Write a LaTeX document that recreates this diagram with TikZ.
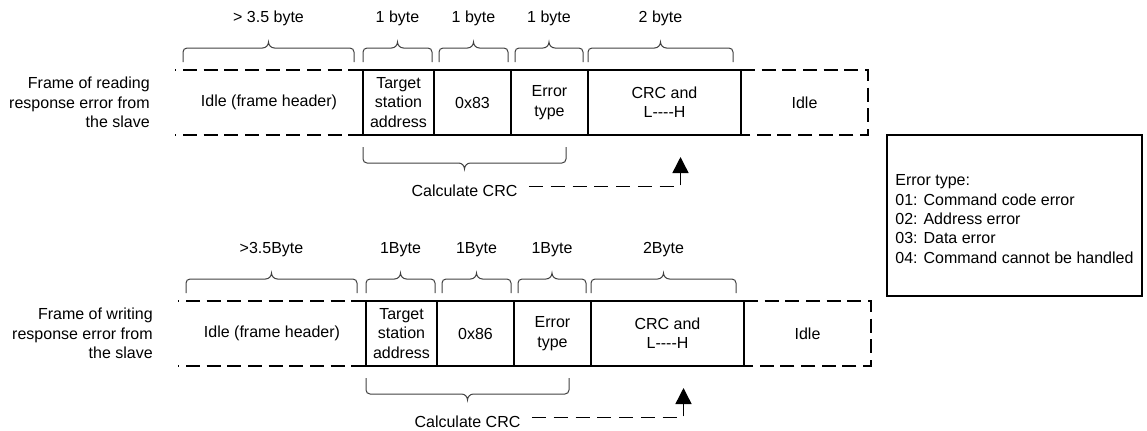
\documentclass[tikz,border=0pt]{standalone}
\usepackage{fontspec}
\setmainfont{Liberation Sans}
\usepackage{tikz}
\usetikzlibrary{positioning,arrows.meta,calc}

\tikzset{
  lbl/.style={inner sep=0pt, font=\fontsize{12}{14.5}\selectfont},
  cell/.style={lbl, align=center, minimum height=48.75pt, outer sep=0pt},
  cellw/.style={minimum width=#1*0.75pt},
  solid cell/.style={draw, line width=1.3pt},
  idle line/.style={line width=1.3pt, dash pattern=on 10.5pt off 5pt},
  bracepen/.style={draw=black!75, line width=0.75pt},
  crc arrow/.style={line width=1.1pt, dash pattern=on 10.5pt off 5.85pt,
                    -{Triangle[length=12pt,width=12pt]}},
}

% curly brace between two points, #3 = 1 above / -1 below, #4 = leg, label #6 named #5
\newcommand{\bytebrace}[6]{%
  \path[bracepen] let \p1=#1, \p2=#2, \p3=($(\p1)!0.5!(\p2)$) in
    (\p1) -- (\x1,{\y1+(#3)*(#4-3pt)})
    arc[start angle=180, delta angle={-90*(#3)}, radius=3pt]
    -- (\x3-4.5pt,{\y1+(#3)*(#4)})
    arc[start angle={180+90*(#3)}, delta angle={90*(#3)}, radius=4.5pt]
    arc[start angle=180, delta angle={90*(#3)}, radius=4.5pt]
    -- (\x2-3pt,{\y2+(#3)*(#4)})
    arc[start angle={180-90*(#3)}, delta angle={-90*(#3)}, radius=3pt]
    -- (\p2)
    (\x3,{\y1+(#3)*32.5pt}) node[lbl] (#5) {#6};
}

% one response frame: prefix, name, code, idle bytes, 1 byte, 2 byte, dx, dy
\newcommand{\framerow}[8]{%
  \node[cell, cellw=188] (#1-idleL) at ({269+#7},{102.5+#8}) {Idle (frame header)};
  \node[cell, solid cell, cellw=71, right=0pt of #1-idleL] (#1-tgt) {Target\\station\\address};
  \node[cell, solid cell, cellw=77, right=0pt of #1-tgt] (#1-code) {#3};
  \node[cell, solid cell, cellw=77, right=0pt of #1-code] (#1-err) {Error\\type};
  \node[cell, solid cell, cellw=153, right=0pt of #1-err] (#1-crc) {CRC and\\L-{}-{}-{}-H};
  \node[cell, cellw=127, right=0pt of #1-crc] (#1-idleR) {Idle};
  \node[lbl, align=right, left=18.75pt of #1-idleL] (#1-name) {#2};
  % idle time, dashed
  \draw[idle line, dash phase=9.5pt] (#1-idleL.north west) -- (#1-idleL.north east);
  \draw[idle line, dash phase=9.5pt] (#1-idleL.south west) -- (#1-idleL.south east);
  \draw[idle line] (#1-idleR.north west) -- (#1-idleR.north east)
        -- (#1-idleR.south east) -- (#1-idleR.south west);
  % byte counts
  \bytebrace{($(#1-idleL.north west)+(8,-8)$)}{($(#1-idleL.north east)+(-9,-8)$)}{1}{10.5pt}{#1-n0}{#4}
  \bytebrace{($(#1-tgt.north west)+(0,-8)$)}{($(#1-tgt.north east)+(-2,-8)$)}{1}{10.5pt}{#1-n1}{#5}
  \bytebrace{($(#1-code.north west)+(5,-8)$)}{($(#1-code.north east)+(-3,-8)$)}{1}{10.5pt}{#1-n2}{#5}
  \bytebrace{($(#1-err.north west)+(4,-8)$)}{($(#1-err.north east)+(-5,-8)$)}{1}{10.5pt}{#1-n3}{#5}
  \bytebrace{($(#1-crc.north west)+(0,-8)$)}{($(#1-crc.north east)+(-8,-8)$)}{1}{10.5pt}{#1-n4}{#6}
  % range covered by the CRC
  \bytebrace{($(#1-tgt.south west)+(0,12)$)}{($(#1-err.south east)+(-22,12)$)}{-1}{12pt}{#1-calc}{Calculate CRC}
  \coordinate (#1-chk) at ($(#1-crc.south)+(16,22)$);
  \draw[crc arrow] (#1-calc.east) ++(11,-4) -| (#1-chk);
}

\begin{document}
\begin{tikzpicture}[x=0.75pt, y=-0.75pt]
  \useasboundingbox (0,0) rectangle (1147,430);

  \framerow{rd}{Frame of reading\\response error from\\the slave}{0x83}%
           {> 3.5 byte}{1 byte}{2 byte}{0}{0}
  \framerow{wr}{Frame of writing\\response error from\\the slave}{0x86}%
           {>3.5Byte}{1Byte}{2Byte}{3}{231}

  % error codes
  \node[draw, line width=1.3pt, minimum width=191.25pt, minimum height=120.75pt,
        inner sep=0pt] (legend) at (1014.5,215.5) {};
  \node[lbl, align=left, anchor=west] (legend-txt) at ($(legend.west)+(9,3.5)$)
       {Error type:\\01: Command code error\\02: Address error\\03: Data error\\04: Command cannot be handled};
\end{tikzpicture}
\end{document}
